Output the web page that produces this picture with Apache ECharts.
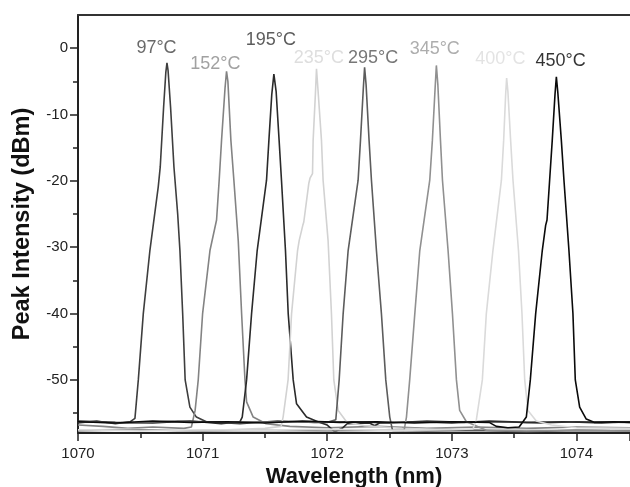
<!DOCTYPE html>
<html>
<head>
<meta charset="utf-8">
<script src="https://cdn.jsdelivr.net/npm/echarts@6/dist/echarts.min.js"></script>
<style>
html,body{margin:0;padding:0;background:#fff;}
#chart{width:630px;height:487px;}
</style>
</head>
<body>
<div id="chart"></div>
<script>
// ---- data (wavelength nm, intensity dBm) ----
const temps = ['97°C','152°C','195°C','235°C','295°C','345°C','400°C','450°C'];

const curve97 = [[1070.00,-56.5],[1070.15,-56.2],[1070.30,-56.6],[1070.42,-56.3],[1070.457,-55.8],[1070.484,-50],[1070.524,-40],[1070.577,-30.5],[1070.644,-20.9],[1070.66,-17.9],[1070.687,-8.9],[1070.705,-3.6],[1070.714,-2.2],[1070.723,-3.4],[1070.743,-8.9],[1070.77,-17.9],[1070.80,-25],[1070.818,-30.5],[1070.84,-40],[1070.86,-50],[1070.898,-54.1],[1070.95,-55.6],[1071.03,-56.3],[1071.30,-56.6],[1071.60,-56.2],[1071.90,-56.4],[1072.20,-56.3],[1072.50,-56.5],[1072.80,-56.2],[1073.10,-56.4],[1073.40,-56.3],[1073.70,-56.5],[1074.00,-56.3],[1074.43,-56.4]];

const curve152 = [[1070.00,-56.8],[1070.20,-57.0],[1070.40,-57.3],[1070.60,-57.1],[1070.85,-57.3],[1070.91,-57.1],[1070.94,-54.6],[1070.965,-50],[1071.0,-40],[1071.059,-30.5],[1071.105,-26.5],[1071.112,-25.9],[1071.133,-19.9],[1071.152,-13.9],[1071.18,-6],[1071.192,-3.5],[1071.203,-5],[1071.227,-13.9],[1071.251,-19.9],[1071.286,-29],[1071.313,-40],[1071.34,-50],[1071.353,-53.3],[1071.406,-55.6],[1071.51,-56.6],[1071.70,-57.0],[1072.00,-57.2],[1072.40,-57.0],[1072.80,-57.3],[1073.20,-57.1],[1073.60,-57.3],[1074.00,-57.1],[1074.43,-57.2]];

const curve195 = [[1070.00,-56.2],[1070.30,-56.4],[1070.60,-56.5],[1070.90,-56.2],[1071.15,-56.6],[1071.30,-56.3],[1071.318,-55.6],[1071.353,-50],[1071.393,-40],[1071.438,-30.5],[1071.513,-19.9],[1071.532,-13.9],[1071.555,-7],[1071.572,-3.9],[1071.59,-6.5],[1071.614,-13.9],[1071.633,-19.9],[1071.665,-30.5],[1071.687,-40],[1071.727,-50],[1071.754,-53.6],[1071.834,-55.6],[1071.925,-56.3],[1072.00,-56.8],[1072.06,-57.8],[1072.12,-57.3],[1072.16,-56.6],[1072.34,-56.5],[1072.38,-56.9],[1072.42,-56.5],[1072.70,-56.3],[1073.00,-56.5],[1073.30,-56.2],[1073.60,-56.4],[1073.90,-56.3],[1074.20,-56.5],[1074.43,-56.3]];

const curve235 = [[1070.00,-57.6],[1070.40,-57.4],[1070.80,-57.7],[1071.20,-57.5],[1071.50,-57.3],[1071.63,-57.0],[1071.646,-55.6],[1071.686,-50],[1071.714,-40],[1071.762,-30.5],[1071.775,-29],[1071.804,-26.7],[1071.812,-26.2],[1071.852,-20.4],[1071.862,-19.6],[1071.882,-18.9],[1071.887,-13.9],[1071.905,-7],[1071.914,-3.1],[1071.925,-6],[1071.954,-13.9],[1071.967,-19.9],[1072.007,-29],[1072.034,-40],[1072.053,-50],[1072.088,-54.6],[1072.155,-56.3],[1072.30,-56.9],[1072.60,-57.3],[1073.00,-57.5],[1073.40,-57.4],[1073.80,-57.6],[1074.43,-57.5]];

const curve295 = [[1070.00,-56.3],[1070.40,-56.5],[1070.80,-56.2],[1071.20,-56.4],[1071.60,-56.3],[1072.00,-56.4],[1072.069,-56.0],[1072.096,-50],[1072.128,-40],[1072.168,-30.5],[1072.248,-19.9],[1072.267,-13.9],[1072.29,-6],[1072.30,-2.9],[1072.312,-5.5],[1072.336,-13.9],[1072.355,-19.9],[1072.395,-30.5],[1072.435,-40],[1072.47,-50],[1072.502,-55.6],[1072.524,-57.6],[1072.80,-57.7],[1073.20,-57.6],[1073.60,-57.8],[1074.00,-57.6],[1074.43,-57.7]];

const curve345 = [[1070.00,-57.7],[1070.50,-57.5],[1071.00,-57.7],[1071.50,-57.6],[1072.00,-57.7],[1072.40,-57.6],[1072.617,-57.6],[1072.636,-55.6],[1072.662,-50],[1072.703,-40],[1072.743,-30.5],[1072.823,-19.9],[1072.844,-13.9],[1072.866,-6],[1072.876,-2.6],[1072.888,-5.5],[1072.909,-13.9],[1072.925,-19.9],[1072.97,-30.5],[1073.005,-40],[1073.037,-50],[1073.063,-54.6],[1073.117,-56.3],[1073.277,-57.6],[1073.60,-57.7],[1074.00,-57.6],[1074.43,-57.7]];

const curve400 = [[1070.00,-57.5],[1070.50,-57.7],[1071.00,-57.5],[1071.50,-57.6],[1072.00,-57.4],[1072.50,-57.6],[1073.00,-57.5],[1073.17,-57.4],[1073.197,-56],[1073.245,-50],[1073.277,-40],[1073.33,-30.5],[1073.398,-19.9],[1073.416,-13.9],[1073.432,-7],[1073.44,-4.5],[1073.45,-6.5],[1073.472,-13.9],[1073.491,-19.9],[1073.535,-30.5],[1073.563,-40],[1073.585,-50],[1073.611,-54.6],[1073.678,-56.2],[1073.80,-56.8],[1074.00,-57.2],[1074.43,-57.3]];

const curve450 = [[1070.00,-56.3],[1070.30,-56.5],[1070.60,-56.2],[1070.90,-56.4],[1071.20,-56.3],[1071.50,-56.5],[1071.80,-56.2],[1072.10,-56.4],[1072.40,-56.3],[1072.70,-56.5],[1073.00,-56.3],[1073.30,-56.4],[1073.357,-57.0],[1073.45,-57.2],[1073.54,-57.1],[1073.575,-56.2],[1073.598,-55.6],[1073.63,-50],[1073.673,-40],[1073.726,-30.5],[1073.753,-26.7],[1073.764,-25.9],[1073.785,-19.9],[1073.806,-13.9],[1073.828,-7],[1073.839,-4.3],[1073.85,-6.5],[1073.879,-13.9],[1073.9,-19.9],[1073.94,-30.5],[1073.972,-40],[1073.991,-50],[1074.026,-54.1],[1074.079,-55.9],[1074.146,-56.4],[1074.30,-56.3],[1074.43,-56.4]];

const curves = [curve97, curve152, curve195, curve235, curve295, curve345, curve400, curve450];

// label anchor positions (data coords)
const labelX = [1070.63, 1071.103, 1071.548, 1071.933, 1072.368, 1072.863, 1073.39, 1073.873];
const labelY = [0.0, -2.35, 1.26, -1.45, -1.45, -0.1, -1.7, -1.96];

const yMajorTicks = [0, -10, -20, -30, -40, -50];
const yMinorTicks = [-5, -15, -25, -35, -45, -55];

// ---- styles ----
const lineColors = ['#3e3e3e', '#838383', '#2a2a2a', '#d2d2d2', '#5c5c5c', '#909090', '#dadada', '#0a0a0a'];
const textColors = ['#444444', '#8a8a8a', '#333333', '#d6d6d6', '#555555', '#999999', '#dcdcdc', '#000000'];
const FONT = 'Liberation Sans, Arial, Helvetica, sans-serif';

const series = curves.map((c, i) => ({
  type: 'line',
  data: c,
  showSymbol: false,
  symbol: 'none',
  smooth: false,
  lineStyle: { color: lineColors[i], width: 1.6 },
  z: 2 + i,
  silent: true,
  animation: false
}));

series.push({
  type: 'scatter',
  symbolSize: 0,
  silent: true,
  animation: false,
  z: 20,
  data: temps.map((t, i) => ({
    value: [labelX[i], labelY[i]],
    label: {
      show: true,
      position: 'inside',
      formatter: t,
      color: textColors[i],
      fontSize: 18,
      fontFamily: FONT
    }
  }))
});

const chart = echarts.init(document.getElementById('chart'), null, { renderer: 'canvas' });
chart.setOption({
  backgroundColor: '#ffffff',
  animation: false,
  grid: { left: 78, right: 0, top: 15, bottom: 54, containLabel: false, outerBoundsMode: 'none' },
  xAxis: [{
    type: 'value',
    min: 1070,
    max: 1074.43,
    interval: 1,
    position: 'bottom',
    name: 'Wavelength (nm)',
    nameLocation: 'middle',
    nameGap: 30,
    nameTextStyle: { fontSize: 22, fontWeight: 'bold', color: '#111', fontFamily: FONT },
    axisLine: { show: true, onZero: false, lineStyle: { color: '#222', width: 2 } },
    axisTick: { show: true, length: 8, lineStyle: { color: '#222', width: 1.5 } },
    minorTick: { show: true, splitNumber: 2, length: 5, lineStyle: { color: '#222', width: 1.5 } },
    axisLabel: { fontSize: 15, color: '#222', margin: 13, fontFamily: FONT, showMaxLabel: false,
                 formatter: v => String(v) },
    splitLine: { show: false }
  }, {
    type: 'value',
    min: 1070,
    max: 1074.43,
    position: 'top',
    axisLine: { show: true, onZero: false, lineStyle: { color: '#333', width: 2 } },
    axisTick: { show: false },
    axisLabel: { show: false },
    splitLine: { show: false }
  }],
  yAxis: [{
    type: 'value',
    min: -58,
    max: 5,
    position: 'left',
    name: 'Peak Intensity (dBm)',
    nameLocation: 'middle',
    nameGap: 43,
    nameTextStyle: { fontSize: 23.5, fontWeight: 'bold', color: '#111', fontFamily: FONT },
    axisLine: { show: true, onZero: false, lineStyle: { color: '#222', width: 2 } },
    axisTick: { show: true, length: 8, customValues: yMajorTicks, lineStyle: { color: '#222', width: 1.5 } },
    axisLabel: { fontSize: 15, color: '#222', margin: 10, fontFamily: FONT, customValues: yMajorTicks },
    splitLine: { show: false }
  }, {
    type: 'value',
    min: -58,
    max: 5,
    position: 'left',
    offset: 0,
    axisLine: { show: false },
    axisTick: { show: true, length: 5, customValues: yMinorTicks, lineStyle: { color: '#222', width: 1.5 } },
    axisLabel: { show: false },
    splitLine: { show: false }
  }],
  series: series
});
</script>
</body>
</html>
